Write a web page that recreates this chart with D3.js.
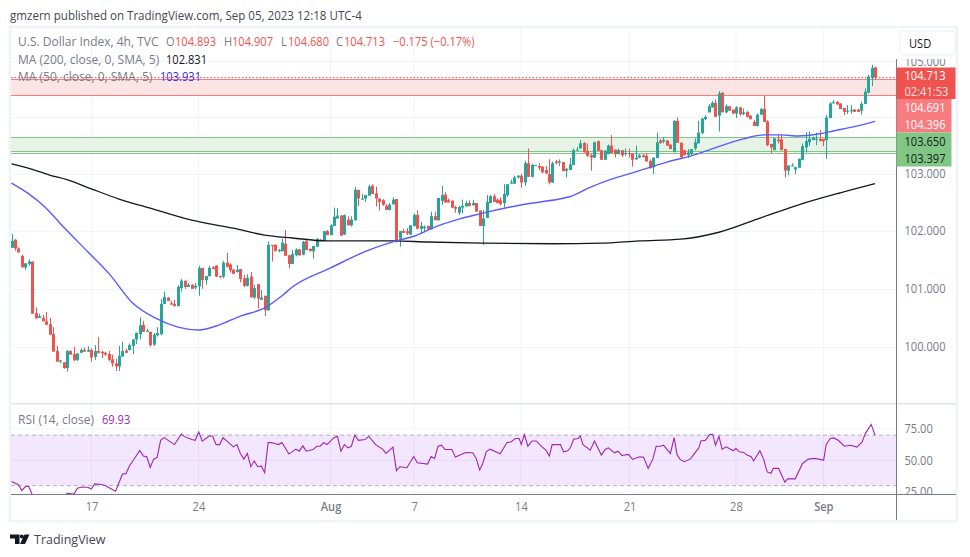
<!DOCTYPE html>
<html>
<head>
<meta charset="utf-8">
<script src="https://cdnjs.cloudflare.com/ajax/libs/d3/7.8.5/d3.min.js"></script>
<style>
  html, body { margin: 0; padding: 0; background: #fff; }
  text { font-family: "Open Sans", "Noto Sans", sans-serif; }
</style>
</head>
<body>
<div id="chart"></div>
<script>
// candles: open, high, low, close
const ohlc = [
  [101.71,101.95,101.71,101.83],[101.85,101.86,101.66,101.70],[101.70,101.72,101.63,101.63],[101.57,101.59,101.37,101.37],
  [101.37,101.44,101.33,101.44],[101.43,101.51,101.40,101.47],[101.47,101.47,100.57,100.57],[100.58,100.68,100.49,100.49],
  [100.50,100.57,100.50,100.53],[100.50,100.55,100.44,100.44],[100.44,100.60,100.38,100.38],[100.39,100.50,100.21,100.21],
  [100.22,100.34,99.92,99.92],[99.93,100.02,99.75,99.75],[99.75,99.78,99.72,99.77],[99.74,99.74,99.63,99.64],
  [99.64,99.95,99.58,99.93],[99.93,99.95,99.87,99.87],[99.88,100.00,99.77,99.77],[99.78,99.90,99.76,99.89],
  [99.90,99.98,99.90,99.95],[99.95,99.99,99.92,99.92],[99.92,100.01,99.92,99.95],[99.95,99.98,99.75,99.82],
  [99.83,100.03,99.78,99.93],[99.93,100.17,99.89,99.90],[99.92,99.93,99.81,99.89],[99.90,99.92,99.85,99.87],
  [99.88,99.93,99.76,99.78],[99.79,99.87,99.66,99.72],[99.72,99.80,99.59,99.67],[99.67,100.02,99.59,99.85],
  [99.84,100.09,99.83,99.93],[99.94,99.97,99.90,99.90],[99.95,100.06,99.94,100.03],[100.02,100.13,99.88,100.13],
  [100.13,100.25,100.05,100.24],[100.22,100.51,100.13,100.37],[100.38,100.45,100.26,100.26],[100.26,100.31,100.26,100.28],
  [100.26,100.26,100.01,100.03],[100.04,100.24,100.02,100.21],[100.20,100.34,100.18,100.24],[100.22,100.82,100.20,100.74],
  [100.74,100.95,100.74,100.86],[100.85,100.85,100.79,100.79],[100.75,100.79,100.72,100.73],[100.74,100.81,100.70,100.70],
  [100.70,101.06,100.70,101.03],[101.01,101.17,100.95,101.14],[101.14,101.14,101.00,101.03],[101.03,101.10,101.03,101.07],
  [101.07,101.08,101.00,101.00],[101.02,101.10,100.99,101.05],[101.04,101.40,100.88,101.36],[101.36,101.36,101.00,101.15],
  [101.15,101.22,101.07,101.22],[101.22,101.40,101.21,101.36],[101.37,101.39,101.34,101.34],[101.40,101.41,101.20,101.21],
  [101.22,101.23,101.18,101.20],[101.21,101.48,101.18,101.45],[101.45,101.62,101.37,101.38],[101.42,101.44,101.28,101.32],
  [101.33,101.34,101.25,101.26],[101.29,101.41,101.28,101.33],[101.34,101.34,101.11,101.17],[101.18,101.24,101.03,101.05],
  [101.05,101.25,101.04,101.19],[101.21,101.29,100.85,100.85],[100.85,101.07,100.82,101.01],[101.08,101.08,100.66,100.83],
  [100.81,100.98,100.81,100.85],[100.88,100.88,100.53,100.63],[100.63,101.82,100.62,101.76],
  [101.76,101.76,101.47,101.75],[101.76,101.77,101.65,101.65],[101.65,101.69,101.63,101.67],[101.65,101.87,101.65,101.80],
  [101.78,102.02,101.57,101.57],[101.58,101.58,101.35,101.43],[101.43,101.67,101.43,101.60],[101.58,101.70,101.56,101.68],
  [101.68,101.69,101.57,101.58],[101.59,101.83,101.58,101.81],[101.83,101.84,101.67,101.67],[101.69,101.70,101.65,101.65],
  [101.65,101.74,101.52,101.74],[101.73,101.88,101.72,101.86],[101.85,101.86,101.82,101.83],[101.83,102.00,101.83,102.00],
  [102.00,102.02,101.93,101.93],[101.93,102.12,101.93,102.10],[102.09,102.41,102.09,102.25],[102.22,102.40,102.22,102.27],
  [102.27,102.28,101.92,101.92],[101.94,102.29,101.93,102.28],[102.20,102.26,102.10,102.10],[102.10,102.26,102.08,102.20],
  [102.19,102.77,102.18,102.72],[102.72,102.72,102.44,102.57],[102.55,102.65,102.55,102.57],[102.57,102.63,102.51,102.63],
  [102.62,102.81,102.62,102.78],[102.79,102.82,102.65,102.65],[102.66,102.78,102.43,102.57],[102.57,102.57,102.36,102.51],
  [102.54,102.56,102.44,102.46],[102.44,102.47,102.37,102.37],[102.37,102.49,102.36,102.46],[102.47,102.59,102.46,102.55],
  [102.56,102.56,101.80,101.84],[101.87,102.00,101.73,102.00],[102.00,102.04,101.97,101.97],[102.00,102.05,101.93,101.96],
  [101.94,102.10,101.94,102.10],[102.09,102.31,102.08,102.28],[102.28,102.36,102.03,102.04],[102.04,102.16,101.95,102.09],
  [102.05,102.10,101.98,102.07],[102.09,102.09,102.03,102.03],[102.03,102.34,102.03,102.26],[102.26,102.34,102.19,102.19],
  [102.19,102.58,102.18,102.58],[102.53,102.79,102.46,102.63],[102.64,102.68,102.50,102.50],[102.54,102.57,102.50,102.50],
  [102.53,102.54,102.40,102.41],[102.42,102.44,102.32,102.39],[102.32,102.44,102.28,102.42],[102.41,102.55,102.31,102.44],
  [102.43,102.53,102.43,102.49],[102.49,102.54,102.43,102.44],[102.45,102.54,102.45,102.49],[102.49,102.49,102.34,102.34],
  [102.36,102.36,102.09,102.09],[102.09,102.37,101.76,102.22],[102.23,102.63,102.23,102.51],[102.49,102.63,102.49,102.61],
  [102.61,102.65,102.51,102.51],[102.55,102.57,102.49,102.49],[102.54,102.59,102.45,102.47],[102.49,102.82,102.41,102.65],
  [102.63,102.82,102.60,102.82],[102.83,102.90,102.83,102.85],[102.83,102.97,102.83,102.94],[102.94,102.98,102.92,102.97],
  [102.97,103.00,102.76,102.85],[102.85,103.23,102.79,103.19],[103.19,103.45,102.95,102.95],[102.95,103.18,102.94,103.16],
  [103.15,103.16,103.15,103.16],[103.14,103.19,103.07,103.11],[103.13,103.14,103.01,103.03],[103.07,103.14,103.00,103.01],
  [103.00,103.26,102.82,102.85],[102.85,103.22,102.84,103.19],[103.22,103.25,103.17,103.19],[103.20,103.26,103.14,103.22],
  [103.21,103.21,103.05,103.05],[103.06,103.11,102.94,103.09],[103.07,103.28,103.07,103.17],[103.16,103.45,103.16,103.42],
  [103.42,103.48,103.41,103.43],[103.45,103.60,103.45,103.54],[103.55,103.56,103.38,103.38],[103.41,103.54,103.30,103.32],
  [103.33,103.35,103.06,103.29],[103.29,103.57,103.28,103.56],[103.58,103.59,103.41,103.41],[103.42,103.43,103.25,103.25],
  [103.25,103.42,103.25,103.41],[103.35,103.52,103.35,103.50],[103.50,103.69,103.37,103.37],[103.43,103.43,103.29,103.35],
  [103.35,103.45,103.35,103.42],[103.42,103.42,103.30,103.33],[103.35,103.45,103.32,103.37],[103.37,103.45,103.29,103.35],
  [103.36,103.36,103.13,103.25],[103.26,103.50,103.25,103.29],[103.29,103.35,103.28,103.33],[103.33,103.35,103.29,103.30],
  [103.32,103.37,103.22,103.22],[103.23,103.26,103.10,103.10],[103.12,103.29,103.00,103.29],[103.28,103.73,103.28,103.56],
  [103.59,103.62,103.53,103.55],[103.57,103.65,103.54,103.60],[103.59,103.60,103.50,103.50],[103.52,103.52,103.44,103.44],
  [103.39,103.95,103.38,103.94],[103.94,104.00,103.55,103.55],[103.55,103.56,103.29,103.29],[103.42,103.42,103.33,103.33],
  [103.33,103.44,103.28,103.38],[103.36,103.44,103.33,103.44],
  [103.45,103.63,103.42,103.56],[103.54,103.94,103.54,103.73],[103.72,103.99,103.71,103.98],[103.97,104.04,103.95,104.01],
  [104.09,104.24,104.09,104.20],[104.18,104.29,104.17,104.26],[104.26,104.32,104.01,104.01],[104.03,104.47,103.75,104.43],
  [104.44,104.45,104.09,104.09],[104.09,104.23,104.07,104.20],[104.20,104.20,104.12,104.12],[104.14,104.14,104.06,104.07],
  [104.07,104.20,103.99,104.18],[104.18,104.18,104.03,104.06],[104.06,104.16,104.04,104.09],[104.10,104.11,104.00,104.01],
  [104.03,104.04,103.97,103.97],[103.92,103.96,103.85,103.85],[103.85,104.07,103.84,104.05],[104.05,104.17,104.04,104.15],
  [104.15,104.38,103.92,103.92],[103.93,103.95,103.49,103.51],[103.53,103.53,103.37,103.47],[103.42,103.63,103.42,103.63],
  [103.61,103.69,103.54,103.58],[103.61,103.69,103.42,103.42],[103.44,103.44,102.94,103.06],[103.06,103.15,102.98,103.15],
  [103.14,103.19,103.14,103.15],[103.08,103.12,103.00,103.12],[103.11,103.27,103.11,103.27],[103.25,103.54,103.24,103.49],
  [103.47,103.74,103.38,103.58],[103.56,103.75,103.49,103.62],[103.60,103.66,103.60,103.64],[103.61,103.73,103.51,103.62],
  [103.62,103.78,103.58,103.58],[103.62,103.62,103.49,103.58],[103.60,104.04,103.27,104.00],[103.99,104.27,103.99,104.25],
  [104.25,104.31,104.25,104.27],[104.28,104.29,104.23,104.23],[104.25,104.25,104.15,104.15],[104.17,104.17,104.04,104.10],
  [104.10,104.22,104.06,104.12],[104.11,104.22,104.07,104.13],[104.14,104.15,104.10,104.10],[104.14,104.15,104.10,104.10],
  [104.12,104.28,104.05,104.24],[104.24,104.52,104.24,104.46],[104.44,104.76,104.43,104.73],[104.70,104.94,104.56,104.888],
  [104.893,104.907,104.680,104.713]
];

// moving averages, sampled at the bars where the line bends
const ma50Bars = [0,5,10,15,22,28,35,42,48,54,60,66,73,78,81,92,103,111,116,122,129,135,148,158,161,167,173,179,189,196,201,211,217,222,227,233,237,244,249];
const ma50 = [102.84,102.65,102.40,102.07,101.64,101.27,100.75,100.48,100.34,100.29,100.38,100.53,100.67,100.88,101.03,101.36,101.67,101.83,101.91,102.07,102.21,102.30,102.47,102.56,102.60,102.77,102.91,103.02,103.21,103.32,103.42,103.62,103.69,103.69,103.67,103.71,103.76,103.85,103.931];
const ma200Bars = [0,5,11,16,23,31,40,52,56,64,73,81,91,110,120,136,156,170,181,193,204,216,227,239,249];
const ma200 = [103.18,103.10,102.98,102.90,102.74,102.56,102.40,102.19,102.14,102.05,101.93,101.88,101.83,101.83,101.81,101.79,101.78,101.79,101.83,101.86,101.98,102.23,102.46,102.67,102.831];

// RSI vertices: bar, value
const rsi = [
  [0,33.3],[2,30.7],[3,26.2],[4,29.3],[5,29.3],[6,22.8],[8,18],[11,16],[14,15],[16,23.9],[18,23.3],[19,28.0],[20,28.8],[22,28.8],[23,27.3],[24,31.4],[26,30.9],[27,30.1],[30,25.7],[32,39.3],
  [33,39.5],[34,45.6],[37,57.8],[38,53.4],[39,52.9],[40,44.5],[41,51.0],[42,52.4],[43,65.9],[44,68.0],[47,62.5],[49,70.9],[50,68.6],[52,66.5],[53,65.9],[54,72.5],[55,65.2],[57,69.3],[58,69.3],[59,62.5],
  [60,62.5],[61,68.0],[64,60.7],[65,62.5],[66,55.5],[67,51.0],[68,55.5],[69,45.0],[70,49.5],[71,45.0],[72,45.6],[73,40.3],[74,64.1],[75,64.1],[77,62.5],[78,64.1],[80,55.0],[82,58.9],[83,57.3],[84,61.5],
  [85,57.3],[87,58.6],[88,61.2],[89,61.2],[90,64.1],[91,62.5],[93,68.0],[94,69.1],[95,57.3],[96,62.5],[97,59.9],[98,61.2],[99,70.1],[100,65.9],[102,66.5],[103,69.1],[105,62.5],[107,58.9],[108,55.5],[110,60.5],
  [111,41.9],[112,45.0],[114,44.2],[116,53.1],[117,48.2],[120,47.1],[121,53.1],[122,51.6],[123,61.2],[124,62.0],[125,58.6],[127,58.6],[128,52.6],[130,55.0],[131,56.3],[133,56.0],[134,51.6],[135,42.4],
  [135.9,47.6],[136.9,56.8],[138,58.9],[140.9,55.2],[142.9,64.1],[144,64.6],[145.3,67.3],[146.4,67.3],[147,62.5],[147.9,70.4],[148.9,61.2],[150.1,65.4],[151.3,65.4],[153,60.7],[154.1,58.1],[155.1,53.4],[155.9,62.5],[158.3,62.5],[159.2,56.8],[160.4,57.6],
  [161.2,60.2],[162.1,66.7],[163.4,67.3],[164,69.3],[164.8,62.5],[166.9,58.1],[168.1,65.4],[170.1,54.2],[171.2,58.6],[172.1,59.9],[173.9,56.0],[174.9,57.3],[176,53.9],[177.9,54.7],[179.1,50.8],[181.1,52.9],[182.3,52.4],[183.6,43.7],[184.9,50.8],[185.9,61.2],
  [187.1,61.2],[188,62.0],[190,55.5],[191.1,68.0],[191.9,54.7],[192.8,50.8],[194,49.0],[195.7,51.0],[198.2,59.9],[198.8,65.4],[200.1,65.9],[201.3,70.4],[202.2,70.7],[203,62.0],[204,69.1],[204.9,58.9],[206.1,60.7],[208.1,57.6],[208.9,59.4],[209.9,56.8],
  [211.1,56.3],[212.1,54.2],[213.3,52.9],[214,49.5],[215.8,57.6],[216.9,50.8],[217.9,40.9],[219,39.8],[219.7,43.7],[221.2,43.7],[223,32.7],[223.8,35.4],[226,35.4],[228.1,47.6],[229.8,51.0],[231.5,51.6],[234.2,50.3],[234.9,62.5],[236.1,67.3],[237.1,67.8],
  [238.4,65.9],[240.2,61.2],[241.9,62.0],[243.8,60.5],[245.3,64.6],[246.2,71.2],[247.9,78.5],[249,69.93]
];

const priceTicks = [100,101,102,103,104,105];
const priceLabelTicks = [100,101,102,103,105]; // 104 sits behind the zone labels
const rsiTicks = [25,50,75];
const tickBars = [23.07,53.9,92,116.1,146.9,178.2,208.9,234.1];
const tickLabels = ['17','24','Aug','7','14','21','28','Sep'];
const boldTicks = ['Aug','Sep'];

const redZone = [104.691,104.396];
const greenZone = [103.65,103.397];
const greenExtra = 103.37;
const lastClose = 104.713;

const width = 970, height = 557;
const plotLeft = 11, plotRight = 896.5, plotTop = 27, paneBottom = 403, rsiTop = 404.5, rsiBottom = 494.5, frameBottom = 520;

const red = '#ef5350', teal = '#26a69a', grey = '#787b86', gridCol = '#f0f3fa', purple = '#9c27b0', blue = '#5a5aff';

const x = d3.scaleLinear().domain([0, ohlc.length - 1]).range([11.5, 875]);
const y = d3.scaleLog().domain([100, 103]).range([347, 174]);
const yRsi = d3.scaleLinear().domain([25, 75]).range([492, 428.8]);

const svg = d3.select('#chart').append('svg')
  .attr('width', width)
  .attr('height', height)
  .style('display', 'block');

const defs = svg.append('defs');
defs.append('clipPath').attr('id', 'pricePane').append('rect')
  .attr('x', plotLeft).attr('y', plotTop).attr('width', plotRight - plotLeft).attr('height', paneBottom - plotTop);
defs.append('clipPath').attr('id', 'rsiPane').append('rect')
  .attr('x', plotLeft).attr('y', rsiTop).attr('width', plotRight - plotLeft).attr('height', rsiBottom - rsiTop);
defs.append('clipPath').attr('id', 'rsiAxis').append('rect')
  .attr('x', plotRight).attr('y', rsiTop).attr('width', 60).attr('height', rsiBottom - rsiTop);

// frame
svg.append('rect')
  .attr('x', 10).attr('y', 27).attr('width', 947).attr('height', 494)
  .attr('fill', '#fff').attr('stroke', gridCol).attr('stroke-width', 2.5);

// grid
svg.append('g').selectAll('line').data(tickBars).enter().append('line')
  .attr('x1', d => x(d)).attr('x2', d => x(d))
  .attr('y1', plotTop).attr('y2', rsiBottom)
  .attr('stroke', gridCol);
svg.append('g').selectAll('line').data(priceTicks).enter().append('line')
  .attr('x1', plotLeft).attr('x2', plotRight)
  .attr('y1', d => Math.round(y(d)) + 0.5).attr('y2', d => Math.round(y(d)) + 0.5)
  .attr('stroke', gridCol);
svg.append('g').selectAll('line').data(rsiTicks).enter().append('line')
  .attr('x1', plotLeft).attr('x2', plotRight)
  .attr('y1', d => yRsi(d)).attr('y2', d => yRsi(d))
  .attr('stroke', gridCol);

// support and resistance zones
const zones = svg.append('g');
zones.append('rect')
  .attr('x', plotLeft).attr('width', plotRight - plotLeft)
  .attr('y', y(redZone[0])).attr('height', y(redZone[1]) - y(redZone[0]))
  .attr('fill', '#fce3e4');
zones.append('rect')
  .attr('x', plotLeft).attr('width', plotRight - plotLeft)
  .attr('y', y(greenZone[0])).attr('height', y(greenZone[1]) - y(greenZone[0]))
  .attr('fill', '#e6f3e6');
zones.selectAll('line.red').data(redZone).enter().append('line')
  .attr('class', 'red')
  .attr('x1', plotLeft).attr('x2', plotRight)
  .attr('y1', d => Math.round(y(d)) + 0.5).attr('y2', d => Math.round(y(d)) + 0.5)
  .attr('stroke', '#f77c80').attr('stroke-width', 1.2);
zones.selectAll('line.green').data(greenZone.concat(greenExtra)).enter().append('line')
  .attr('class', 'green')
  .attr('x1', plotLeft).attr('x2', plotRight)
  .attr('y1', d => Math.round(y(d)) + 0.5).attr('y2', d => Math.round(y(d)) + 0.5)
  .attr('stroke', '#81c784').attr('stroke-width', 1.2);

// last price line
svg.append('line')
  .attr('x1', plotLeft).attr('x2', plotRight)
  .attr('y1', y(lastClose)).attr('y2', y(lastClose))
  .attr('stroke', red).attr('stroke-dasharray', '1.5 2');

// candles
const candles = svg.append('g').attr('clip-path', 'url(#pricePane)')
  .selectAll('g').data(ohlc).enter().append('g')
  .attr('fill', d => d[3] >= d[0] ? teal : red);
candles.append('rect')
  .attr('x', (d, i) => Math.round(x(i)))
  .attr('width', 1)
  .attr('y', d => y(d[1]))
  .attr('height', d => y(d[2]) - y(d[1]));
candles.append('rect')
  .attr('x', (d, i) => Math.round(x(i)) - 1)
  .attr('width', 3)
  .attr('y', d => y(Math.max(d[0], d[3])))
  .attr('height', d => Math.max(1, Math.abs(y(d[0]) - y(d[3]))));

// moving averages
const maLine = d3.line().x(d => x(d[0])).y(d => y(d[1])).curve(d3.curveMonotoneX);
svg.append('path')
  .attr('d', maLine(ma200Bars.map((b, i) => [b, ma200[i]])))
  .attr('fill', 'none').attr('stroke', '#131722').attr('stroke-width', 1.3)
  .attr('clip-path', 'url(#pricePane)');
svg.append('path')
  .attr('d', maLine(ma50Bars.map((b, i) => [b, ma50[i]])))
  .attr('fill', 'none').attr('stroke', blue).attr('stroke-width', 1.4)
  .attr('clip-path', 'url(#pricePane)');

// RSI pane
svg.append('rect')
  .attr('x', plotLeft).attr('width', plotRight - plotLeft)
  .attr('y', yRsi(70)).attr('height', yRsi(30) - yRsi(70))
  .attr('fill', '#9b30ff').attr('fill-opacity', 0.12);
svg.append('g').selectAll('line').data([70, 30]).enter().append('line')
  .attr('x1', plotLeft).attr('x2', plotRight)
  .attr('y1', d => yRsi(d)).attr('y2', d => yRsi(d))
  .attr('stroke', grey).attr('stroke-opacity', 0.55).attr('stroke-dasharray', '4 3');
svg.append('path')
  .attr('d', d3.line().x(d => x(d[0])).y(d => yRsi(d[1]))(rsi))
  .attr('fill', 'none').attr('stroke', purple).attr('stroke-width', 1.1)
  .attr('clip-path', 'url(#rsiPane)');

// pane separator and axis lines
svg.append('rect').attr('x', plotLeft).attr('y', paneBottom).attr('width', 945).attr('height', 1.5).attr('fill', '#e0e3eb');
svg.append('line').attr('x1', plotLeft).attr('x2', 956).attr('y1', rsiBottom).attr('y2', rsiBottom).attr('stroke', grey);
svg.append('line').attr('x1', plotRight).attr('x2', plotRight).attr('y1', 59).attr('y2', frameBottom).attr('stroke', grey);

// axes
const priceAxis = svg.append('g')
  .attr('transform', `translate(${plotRight},0)`)
  .call(d3.axisRight(y).tickValues(priceLabelTicks).tickFormat(d3.format('.3f')).tickSize(0).tickPadding(8));
const rsiAxis = svg.append('g')
  .attr('clip-path', 'url(#rsiAxis)')
  .append('g')
  .attr('transform', `translate(${plotRight},0)`)
  .call(d3.axisRight(yRsi).tickValues(rsiTicks).tickFormat(d3.format('.2f')).tickSize(0).tickPadding(8));
const timeAxis = svg.append('g')
  .attr('transform', `translate(0,${rsiBottom})`)
  .call(d3.axisBottom(x).tickValues(tickBars).tickFormat((d, i) => tickLabels[i]).tickSize(0).tickPadding(8));
[priceAxis, rsiAxis, timeAxis].forEach(a => {
  a.select('.domain').remove();
  a.selectAll('text')
    .attr('fill', grey)
    .style('font-family', '"Open Sans", "Noto Sans", sans-serif')
    .style('font-size', '12px');
});
timeAxis.selectAll('text')
  .style('font-weight', (d, i) => boldTicks.includes(tickLabels[i]) ? 600 : 400);

// labels on the price axis
const axisBoxes = [
  {y: 67.5, h: 31.5, w: 59, fill: red},
  {y: 99, h: 33.5, w: 55, fill: '#f77c80'},
  {y: 132.5, h: 34, w: 55, fill: '#81c784'}
];
svg.append('g').selectAll('rect').data(axisBoxes).enter().append('rect')
  .attr('x', plotRight).attr('y', d => d.y).attr('width', d => d.w).attr('height', d => d.h)
  .attr('fill', d => d.fill);
const axisLabels = [
  {t: d3.format('.3f')(lastClose), y: 76, c: '#fff'},
  {t: '02:41:53', y: 91.5, c: '#fde0e0'},
  {t: d3.format('.3f')(redZone[0]), y: 107.5, c: '#fff'},
  {t: d3.format('.3f')(redZone[1]), y: 124.5, c: '#fff'},
  {t: d3.format('.3f')(greenZone[0]), y: 142, c: '#131722'},
  {t: d3.format('.3f')(greenZone[1]), y: 159, c: '#131722'}
];
svg.append('g').selectAll('text').data(axisLabels).enter().append('text')
  .attr('x', 904.5).attr('y', d => d.y).attr('dy', '0.35em')
  .attr('font-size', 12).attr('fill', d => d.c)
  .text(d => d.t);

// currency button
svg.append('rect').attr('x', 897).attr('y', 28).attr('width', 58).attr('height', 31).attr('fill', '#fff');
svg.append('rect')
  .attr('x', 900).attr('y', 31).attr('width', 55.5).attr('height', 24).attr('rx', 4)
  .attr('fill', '#fff').attr('stroke', gridCol).attr('stroke-width', 1.5);
svg.append('text').attr('x', 909).attr('y', 47.5).attr('font-size', 12).attr('fill', '#131722').text('USD');

// header and footer
svg.append('text').attr('x', 10).attr('y', 19.5).attr('font-size', 12.5).attr('fill', '#434651')
  .text('gmzern published on TradingView.com, Sep 05, 2023 12:18 UTC-4');
svg.append('path')
  .attr('d', 'M10 534.5h9.5v9.5h-4.5v-5.5h-5z M24.5 534.5h5l-4.5 9.5h-5z')
  .attr('fill', '#131722');
svg.append('circle').attr('cx', 21.8).attr('cy', 536.6).attr('r', 2).attr('fill', '#131722');
svg.append('text').attr('x', 34).attr('y', 544).attr('font-size', 13.5).attr('fill', '#434651').text('TradingView');

// legend rows
const legend = [
  {t: 'U.S. Dollar Index, 4h, TVC', x: 18, y: 46, c: grey},
  {t: 'O', x: 166, y: 46, c: grey},
  {t: '104.893', x: 175, y: 46, c: red},
  {t: 'H', x: 224, y: 46, c: grey},
  {t: '104.907', x: 232, y: 46, c: red},
  {t: 'L', x: 281, y: 46, c: grey},
  {t: '104.680', x: 288, y: 46, c: red},
  {t: 'C', x: 336, y: 46, c: grey},
  {t: '104.713', x: 344, y: 46, c: red},
  {t: '\u22120.175 (\u22120.17%)', x: 393, y: 46, c: red},
  {t: 'MA (200, close, 0, SMA, 5)', x: 18, y: 63.5, c: grey},
  {t: '102.831', x: 166, y: 63.5, c: '#131722'},
  {t: 'MA (50, close, 0, SMA, 5)', x: 18, y: 81, c: grey},
  {t: '103.931', x: 160, y: 81, c: '#2a2eff'},
  {t: 'RSI (14, close)', x: 18, y: 423.5, c: grey},
  {t: '69.93', x: 102, y: 423.5, c: purple}
];
svg.append('g').selectAll('text').data(legend).enter().append('text')
  .attr('class', d => d.t.length > 7 && d.c === grey ? 'wide' : null)
  .attr('x', d => d.x).attr('y', d => d.y)
  .attr('font-size', 12).attr('fill', d => d.c)
  .text(d => d.t);

// Open Sans runs wider than the chart's font, squeeze the numbers and the header
svg.selectAll('text:not(.wide)').each(function() {
  this.setAttribute('textLength', this.getComputedTextLength() * 0.925);
  this.setAttribute('lengthAdjust', 'spacingAndGlyphs');
});
</script>
</body>
</html>
